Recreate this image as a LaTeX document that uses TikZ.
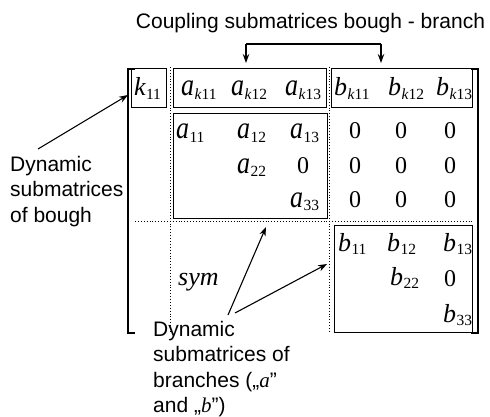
\documentclass[tikz,border=0pt]{standalone}
\usepackage{fontspec}
\setmainfont{Liberation Serif}
\newfontfamily\arialf{Liberation Sans}
\usetikzlibrary{arrows.meta}
\newcommand\stra{\scalebox{1}[1.2]{\itshape a}}
\newcommand\ent[2]{{\itshape #1}\kern0.3pt\raisebox{-3.5pt}{\fontsize{15.5}{15.5}\selectfont\upshape #2}}
\newcommand\ri[1]{{\rmfamily\itshape #1}}
\begin{document}
\begin{tikzpicture}[x=1pt,y=-1pt,
 entry/.style={font=\fontsize{26}{26}\selectfont, inner sep=0pt, anchor=base west},
 zero/.style={font=\fontsize{24}{24}\selectfont, inner sep=0pt, anchor=base},
 lbl/.style={font=\arialf\fontsize{21}{25.5}\selectfont, align=left, inner sep=0pt, anchor=north west},
 box/.style={draw, line width=0.9pt},
 dots/.style={draw, dotted, line width=0.9pt},
 arr/.style={-{Stealth[length=9pt,width=6.5pt]}, line width=1.1pt},
 brk/.style={line width=1.5pt}]
\useasboundingbox (0,0) rectangle (490,417);

% title and coupling bracket
\node[font=\arialf\fontsize{21}{25}\selectfont, inner sep=0pt, anchor=base] (title) at (310.5,29) {Coupling submatrices bough - branch};
\coordinate (cl) at (246,44);
\coordinate (cr) at (381,44);
\coordinate (clt) at (246,63);
\coordinate (crt) at (381,63);
\draw[line width=1.1pt] (cl) -- (cr);
\draw[arr] (cl) -- (clt);
\draw[arr] (cr) -- (crt);

% matrix brackets
\draw[brk] (135,69) -- (128,69) -- (128,333) -- (135,333);
\draw[brk] (471,69) -- (478,69) -- (478,333) -- (471,333);

% dotted partition lines
\draw[dots] (170,67) -- (170,332);
\draw[dots] (329,67) -- (329,332);
\draw[dots] (135,221) -- (472,221);

% boxes
\draw[box] (131,68) rectangle (166,107);
\draw[box] (173,68) rectangle (326,107);
\draw[box] (331,68) rectangle (472,107);
\draw[box] (173,113) rectangle (327,218);
\draw[box] (334,225) rectangle (472,332);

% row 1
\node[entry] (k11) at (134,96) {\ent{k}{11}};
\node[entry] (ak11) at (181,96) {\ent{\stra}{\textit{k}11}};
\node[entry] (ak12) at (231,96) {\ent{\stra}{\textit{k}12}};
\node[entry] (ak13) at (285,96) {\ent{\stra}{\textit{k}13}};
\node[entry] (bk11) at (334,96) {\ent{b}{\textit{k}11}};
\node[entry] (bk12) at (388,96) {\ent{b}{\textit{k}12}};
\node[entry] (bk13) at (436,96) {\ent{b}{\textit{k}13}};
% row 2
\node[entry] (a11) at (176,139) {\ent{\stra}{11}};
\node[entry] (a12) at (237,139) {\ent{\stra}{12}};
\node[entry] (a13) at (290,139) {\ent{\stra}{13}};
\node[zero] (z21) at (355,139) {0};
\node[zero] (z22) at (401,139) {0};
\node[zero] (z23) at (450,139) {0};
% row 3
\node[entry] (a22) at (237,173) {\ent{\stra}{22}};
\node[zero] (z30) at (303,173) {0};
\node[zero] (z31) at (355,173) {0};
\node[zero] (z32) at (401,173) {0};
\node[zero] (z33) at (450,173) {0};
% row 4
\node[entry] (a33) at (290,207) {\ent{\stra}{33}};
\node[zero] (z41) at (355,207) {0};
\node[zero] (z42) at (401,207) {0};
\node[zero] (z43) at (450,207) {0};
% row 5
\node[entry] (b11) at (338,251) {\ent{b}{11}};
\node[entry] (b12) at (387,251) {\ent{b}{12}};
\node[entry] (b13) at (443,251) {\ent{b}{13}};
% row 6
\node[entry] (sym) at (178,285) {\textit{sym}};
\node[entry] (b22) at (390,285) {\ent{b}{22}};
\node[zero] (z63) at (450,286) {0};
% row 7
\node[entry] (b33) at (443,322) {\ent{b}{33}};

% labels
\node[lbl] (lbough) at (10,156) {Dynamic\\submatrices\\of bough};
\node[lbl] (lbranch) at (153,321) {Dynamic\\submatrices of\\branches („\ri{a}”\\and „\ri{b}”)};

% arrows
\coordinate (t1) at (38,149);
\coordinate (h1) at (128,95);
\draw[arr] (t1) -- (h1);
\coordinate (t2) at (228,315);
\coordinate (h2) at (266,227);
\draw[arr] (t2) -- (h2);
\coordinate (t3) at (235,313);
\coordinate (h3) at (327,264);
\draw[arr] (t3) -- (h3);
\end{tikzpicture}
\end{document}
